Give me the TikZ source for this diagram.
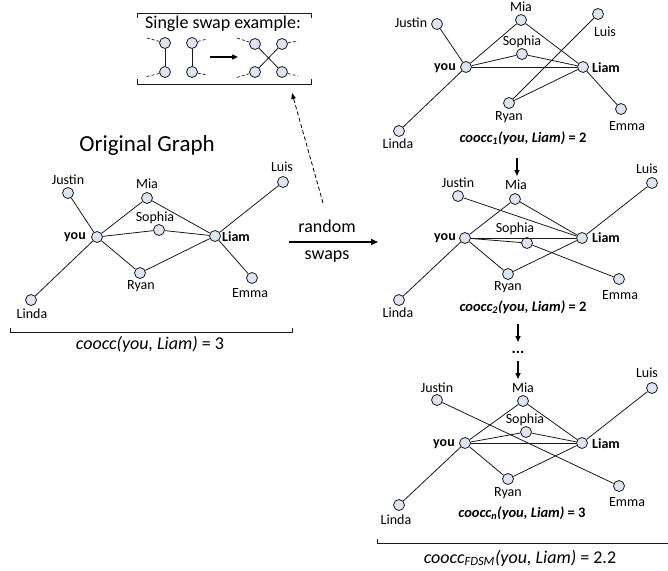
\documentclass[tikz,border=0pt]{standalone}
\usepackage{fontspec}
\setmainfont{Carlito}
\usetikzlibrary{arrows.meta}
\definecolor{nodefill}{HTML}{DEE5F2}
\definecolor{ink}{HTML}{1A1A1A}
\begin{document}
\begin{tikzpicture}[x=1pt,y=-1pt,
  v/.style={circle,draw=ink,fill=nodefill,minimum size=11pt,inner sep=0pt,line width=0.8pt},
  lbl/.style={inner sep=0pt,font=\fontsize{14}{16}\selectfont},
  blbl/.style={inner sep=0pt,font=\fontsize{14}{16}\selectfont\bfseries},
  edge/.style={line width=0.8pt,draw=ink},
  stub/.style={line width=0.7pt,draw=ink,dash pattern=on 3pt off 2pt},
  bigarrow/.style={line width=1.5pt,draw=black,-{Triangle[length=7pt,width=6pt]}},
  downarrow/.style={line width=1.4pt,draw=black,-{Triangle[length=6pt,width=5pt]}},
  bracket/.style={line width=0.9pt,draw=ink},
  capt/.style={inner sep=0pt,font=\fontsize{14.5}{17}\selectfont\bfseries},
  biglbl/.style={inner sep=0pt,font=\fontsize{18}{21}\selectfont}
]
\useasboundingbox (0,0) rectangle (668,570);

% ---------- Single swap example box ----------
\draw[bracket] (137,18) -- (137,13) -- (311,13) -- (311,18);
\draw[bracket] (137,79) -- (137,84) -- (311,84) -- (311,79);
\node[biglbl] (swaptitle) at (223,24) {Single swap example:};
\node[v] (s1) at (165,43) {};
\node[v] (s2) at (165,72) {};
\node[v] (s3) at (192,43) {};
\node[v] (s4) at (192,72) {};
\node[v] (s5) at (255,44) {};
\node[v] (s6) at (282,44) {};
\node[v] (s7) at (255,72) {};
\node[v] (s8) at (282,72) {};
\coordinate (t1) at (147,38);
\coordinate (t2) at (145,77);
\coordinate (t3) at (207,39);
\coordinate (t4) at (207,75);
\coordinate (t5) at (237,38);
\coordinate (t6) at (298,41);
\coordinate (t7) at (235,78);
\coordinate (t8) at (298,76);
\draw[stub] (s1) -- (t1);
\draw[stub] (s2) -- (t2);
\draw[stub] (s3) -- (t3);
\draw[stub] (s4) -- (t4);
\draw[stub] (s5) -- (t5);
\draw[stub] (s6) -- (t6);
\draw[stub] (s7) -- (t7);
\draw[stub] (s8) -- (t8);
\draw[edge] (s1) -- (s2);
\draw[edge] (s3) -- (s4);
\draw[edge] (s5) -- (s8);
\draw[edge] (s6) -- (s7);
\coordinate (sa1) at (210,57);
\coordinate (sa2) at (238,57);
\draw[line width=1.3pt,-{Triangle[length=6pt,width=5pt]}] (sa1) -- (sa2);

% ---------- Original graph ----------
\node[inner sep=0pt,font=\fontsize{23}{27}\selectfont] (otitle) at (147,145) {Original Graph};
\node[v] (oJ) at (68,193) {};
\node[v] (oM) at (147,198) {};
\node[v] (oS) at (159,230) {};
\node[v] (oY) at (97,237) {};
\node[v] (oL) at (215,236) {};
\node[v] (oLu) at (283,182) {};
\node[v] (oR) at (140,273) {};
\node[v] (oE) at (252,278) {};
\node[v] (oLi) at (31,300) {};
\node[lbl] (oJl) at (68,180) {Justin};
\node[lbl] (oMl) at (147,184) {Mia};
\node[lbl] (oSl) at (155,218) {Sophia};
\node[blbl] (oYl) at (75,237) {you};
\node[blbl] (oLl) at (236,237) {Liam};
\node[lbl] (oLul) at (282,167) {Luis};
\node[lbl] (oRl) at (141,286) {Ryan};
\node[lbl] (oEl) at (250,293) {Emma};
\node[lbl] (oLil) at (32,314) {Linda};
\draw[edge] (oY) -- (oJ);
\draw[edge] (oY) -- (oM);
\draw[edge] (oY) -- (oS);
\draw[edge] (oY) -- (oR);
\draw[edge] (oY) -- (oLi);
\draw[edge] (oL) -- (oM);
\draw[edge] (oL) -- (oS);
\draw[edge] (oL) -- (oR);
\draw[edge] (oL) -- (oLu);
\draw[edge] (oL) -- (oE);
\draw[bracket] (10,328) -- (10,332) -- (292,332) -- (292,328);
\node[biglbl] (ocap) at (150,344) {\textit{coocc(you, Liam)} = 3};

% ---------- random swaps arrow ----------
\coordinate (ra1) at (289,242);
\coordinate (ra2) at (378,242);
\draw[bigarrow] (ra1) -- (ra2);
\node[biglbl] (rtop) at (327,226) {random};
\node[biglbl] (rbot) at (327,257) {swaps};
\coordinate (da1) at (323,203);
\coordinate (da2) at (292,93);
\draw[line width=0.8pt,dash pattern=on 4pt off 2.5pt,-{Triangle[length=6pt,width=4.5pt]}] (da1) -- (da2);

% ---------- Graph 1 ----------
\node[v] (aJ) at (437,24) {};
\node[v] (aM) at (521,20) {};
\node[v] (aLu) at (598,14) {};
\node[v] (aS) at (522,54) {};
\node[v] (aY) at (466,67) {};
\node[v] (aL) at (583,67) {};
\node[v] (aR) at (509,103) {};
\node[v] (aE) at (621,109) {};
\node[v] (aLi) at (399,131) {};
\node[lbl] (aJl) at (411,23) {Justin};
\node[lbl] (aMl) at (521,7) {Mia};
\node[lbl] (aLul) at (605,32) {Luis};
\node[lbl] (aSl) at (522,42) {Sophia};
\node[blbl] (aYl) at (445,68) {you};
\node[blbl] (aLl) at (606,68) {Liam};
\node[lbl] (aRl) at (509,117) {Ryan};
\node[lbl] (aEl) at (627,126) {Emma};
\node[lbl] (aLil) at (398,144) {Linda};
\draw[edge] (aY) -- (aJ);
\draw[edge] (aY) -- (aM);
\draw[edge] (aY) -- (aS);
\draw[edge] (aY) -- (aL);
\draw[edge] (aY) -- (aLi);
\draw[edge] (aM) -- (aL);
\draw[edge] (aS) -- (aL);
\draw[edge] (aL) -- (aR);
\draw[edge] (aR) -- (aLu);
\draw[edge] (aL) -- (aE);
\node[capt] (acap) at (523,138) {\textit{coocc\textsubscript{1}(you, Liam)} = 2};

\coordinate (d1a) at (517,158);
\coordinate (d1b) at (517,176);
\draw[downarrow] (d1a) -- (d1b);

% ---------- Graph 2 ----------
\node[v] (bJ) at (458,196) {};
\node[v] (bM) at (515,199) {};
\node[v] (bLu) at (652,183) {};
\node[v] (bS) at (527,243) {};
\node[v] (bY) at (465,238) {};
\node[v] (bL) at (582,238) {};
\node[v] (bR) at (508,274) {};
\node[v] (bE) at (619,279) {};
\node[v] (bLi) at (399,300) {};
\node[lbl] (bJl) at (458,183) {Justin};
\node[lbl] (bMl) at (516,185) {Mia};
\node[lbl] (bLul) at (647,169) {Luis};
\node[lbl] (bSl) at (515,229) {Sophia};
\node[blbl] (bYl) at (445,238) {you};
\node[blbl] (bLl) at (606,238) {Liam};
\node[lbl] (bRl) at (508,287) {Ryan};
\node[lbl] (bEl) at (620,295) {Emma};
\node[lbl] (bLil) at (398,313) {Linda};
\draw[edge] (bY) -- (bLi);
\draw[edge] (bY) -- (bM);
\draw[edge] (bY) -- (bL);
\draw[edge] (bY) -- (bS);
\draw[edge] (bY) -- (bR);
\draw[edge] (bJ) -- (bL);
\draw[edge] (bM) -- (bL);
\draw[edge] (bR) -- (bL);
\draw[edge] (bL) -- (bLu);
\draw[edge] (bS) -- (bE);
\node[capt] (bcap) at (523,307) {\textit{coocc\textsubscript{2}(you, Liam)} = 2};

\coordinate (d2a) at (518,324);
\coordinate (d2b) at (518,342);
\draw[downarrow] (d2a) -- (d2b);
\node[inner sep=0pt,font=\fontsize{16}{18}\selectfont\bfseries] (dots) at (518,352) {...};
\coordinate (d3a) at (518,361);
\coordinate (d3b) at (518,379);
\draw[downarrow] (d3a) -- (d3b);

% ---------- Graph n ----------
\node[v] (cJ) at (437,400) {};
\node[v] (cM) at (523,401) {};
\node[v] (cLu) at (652,388) {};
\node[v] (cS) at (526,432) {};
\node[v] (cY) at (465,443) {};
\node[v] (cL) at (582,443) {};
\node[v] (cR) at (508,479) {};
\node[v] (cE) at (619,486) {};
\node[v] (cLi) at (399,505) {};
\node[lbl] (cJl) at (437,388) {Justin};
\node[lbl] (cMl) at (523,388) {Mia};
\node[lbl] (cLul) at (647,373) {Luis};
\node[lbl] (cSl) at (525,420) {Sophia};
\node[blbl] (cYl) at (444,444) {you};
\node[blbl] (cLl) at (606,444) {Liam};
\node[lbl] (cRl) at (508,493) {Ryan};
\node[lbl] (cEl) at (627,502) {Emma};
\node[lbl] (cLil) at (396,520) {Linda};
\draw[edge] (cY) -- (cLi);
\draw[edge] (cY) -- (cM);
\draw[edge] (cY) -- (cS);
\draw[edge] (cY) -- (cL);
\draw[edge] (cY) -- (cR);
\draw[edge] (cJ) -- (cE);
\draw[edge] (cM) -- (cL);
\draw[edge] (cS) -- (cL);
\draw[edge] (cR) -- (cL);
\draw[edge] (cL) -- (cLu);
\node[capt] (ccap) at (522,513) {\textit{coocc\textsubscript{n}(you, Liam)} = 3};

\draw[bracket] (377,539) -- (377,543) -- (668,543);
\node[biglbl] (fcap) at (520,558) {\textit{coocc\textsubscript{FDSM}(you, Liam)} = 2.2};
\end{tikzpicture}
\end{document}
